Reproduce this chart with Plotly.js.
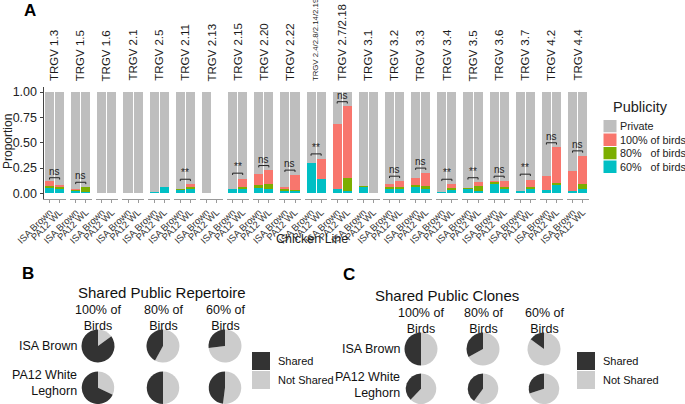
<!DOCTYPE html>
<html><head><meta charset="utf-8">
<script src="https://cdn.plot.ly/plotly-3.0.1.min.js"></script>
<style>html,body{margin:0;padding:0;background:#fff}</style>
</head><body><div id="chart" style="width:685px;height:404px"></div>
<script>
// ---------- DATA ----------
const facets = ["TRGV 1.3","TRGV 1.5","TRGV 1.6","TRGV 2.1","TRGV 2.5","TRGV 2.11","TRGV 2.13","TRGV 2.15","TRGV 2.20","TRGV 2.22","TRGV 2.4/2.8/2.14/2.19","TRGV 2.7/2.18","TRGV 3.1","TRGV 3.2","TRGV 3.3","TRGV 3.4","TRGV 3.5","TRGV 3.6","TRGV 3.7","TRGV 4.2","TRGV 4.4"];
const chickenLines = ["ISA Brown","PA12 WL"];
const isa60  = [0.05,0.025,0,0,0.015,0.033,0,0.04,0.05,0.027,0.30,0.043,0.06,0.04,0.06,0.015,0.043,0.089,0.023,0.033,0.02];
const isa80  = [0.02,0.005,0,0,0,0.01,0,0.004,0.03,0.016,0,0,0.015,0.02,0.02,0,0.009,0.019,0.003,0,0];
const isa100 = [0.05,0.015,0,0,0,0.003,0,0,0.11,0.017,0.005,0.642,0,0.03,0.07,0,0,0.012,0,0.142,0.2];
const pa60   = [0.04,0.01,0,0,0.06,0.04,null,0.043,0.046,0.025,0.14,0.025,0,0.04,0.045,0.033,0.026,0.04,0.043,0.08,0.043];
const pa80   = [0.02,0.055,0,0,0,0.02,null,0.023,0.044,0.01,0,0.13,0,0.022,0.025,0.022,0.046,0.026,0.022,0.02,0.047];
const pa100  = [0.02,0,0,0,0,0.035,null,0.08,0.14,0.145,0.2,0.71,0,0.063,0.13,0.04,0.043,0.054,0.07,0.36,0.28];
const sigLabels = ["ns","ns","","","","**","","**","ns","ns","**","ns","","ns","ns","**","**","ns","**","ns","ns"];
const sigY = [0.155,0.11,null,null,null,0.14,null,0.20,0.275,0.23,0.39,0.905,null,0.17,0.25,0.14,0.155,0.17,0.19,0.50,0.42];
const publicity = ["60%\u00a0\u00a0\u00a0of birds","80%\u00a0\u00a0\u00a0of birds","100% of birds","Private"];
const pubColors = ["#00BFC4","#7CAE00","#F8766D","#BEBEBE"];

const pieCols = ["100% of<br>Birds","80% of<br>Birds","60% of<br>Birds"];
const pieRows = ["ISA Brown","PA12 White<br>Leghorn"];
const repISA = [0.85,0.42,0.27];
const repPA  = [0.68,0.50,0.48];
const cloISA = [0.50,0.33,0.15];
const cloPA  = [0.38,0.40,0.30];
const shareLabels = ["Shared","Not Shared"];
const shareColors = ["#333333","#CCCCCC"];

// ---------- LAYOUT HELPERS ----------
const W=685,H=404;
const X=p=>p/W, Y=p=>1-p/H;
const panelX0=43.5, panelW=22.2, pitch=26.15;
const yTop=87, yBot=198.5;
const FONT='Liberation Sans, Arial, sans-serif';

const traces=[];
const layout={width:W,height:H,margin:{l:0,r:0,t:0,b:0},barmode:'stack',bargap:0.1,showlegend:false,
  paper_bgcolor:'#fff',plot_bgcolor:'rgba(0,0,0,0)',font:{family:FONT,color:'#222'},annotations:[],shapes:[]};

const privISA = isa60.map((v,i)=>1-v-isa80[i]-isa100[i]);
const privPA = pa60.map((v,i)=>v===null?null:1-v-pa80[i]-pa100[i]);
const series=[[isa60,pa60],[isa80,pa80],[isa100,pa100],[privISA,privPA]];

facets.forEach((f,i)=>{
  const ax = i===0?'':String(i+1);
  const x0 = panelX0+i*pitch, x1=x0+panelW;
  series.forEach((s,k)=>{
    traces.push({type:'bar',x:chickenLines,y:[s[0][i],s[1][i]],xaxis:'x'+ax,yaxis:'y',
      marker:{color:pubColors[k],line:{width:0}},name:publicity[k],hoverinfo:'skip'});
  });
  layout['xaxis'+ax]={domain:[X(x0),X(x1)],anchor:'y',type:'category',range:[-0.6,1.6],
    tickmode:'array',tickvals:chickenLines,ticktext:chickenLines,
    tickangle:-45,tickfont:{size:9.5,color:'#333',family:FONT},showline:true,linecolor:'#9a9a9a',linewidth:1.5,
    ticks:'outside',ticklen:3,tickcolor:'#9a9a9a',showgrid:false,zeroline:false,fixedrange:true,automargin:false};
  // strip label
  const small = f.length>15;
  layout.annotations.push({text:f,xref:'paper',yref:'paper',x:X((x0+x1)/2),y:Y(83),xanchor:'center',yanchor:'bottom',
    textangle:-90,showarrow:false,font:{size:small?7.8:11.5,color:'#1a1a1a',family:FONT}});
  // significance bracket
  if(sigLabels[i]){
    const yv=sigY[i];
    layout.shapes.push({type:'path',xref:'x'+ax,yref:'y',path:`M0,${yv-0.018} L0,${yv} L1,${yv} L1,${yv-0.018}`,line:{color:'#222',width:1}});
    layout.annotations.push({text:sigLabels[i],xref:'x'+ax,yref:'y',x:0.5,y:yv,xanchor:'center',yanchor:'bottom',yshift:-1,
      showarrow:false,font:{size:10,color:'#222',family:FONT}});
  }
});
layout.yaxis={domain:[Y(yBot),Y(yTop)],anchor:'x',range:[-0.05,1.05],tickvals:[0,0.25,0.5,0.75,1],
  ticktext:["0.00","0.25","0.50","0.75","1.00"],tickfont:{size:12.5,color:'#222',family:FONT},
  showline:true,linecolor:'#444',linewidth:1,ticks:'outside',ticklen:3,tickcolor:'#444',showgrid:false,zeroline:false,fixedrange:true};

// panel A texts
layout.annotations.push({text:'<b>A</b>',xref:'paper',yref:'paper',x:X(30),y:Y(10),xanchor:'center',yanchor:'middle',showarrow:false,font:{size:17,color:'#000'}});
layout.annotations.push({text:'Proportion',xref:'paper',yref:'paper',x:X(8),y:Y(142),textangle:-90,xanchor:'center',yanchor:'middle',showarrow:false,font:{size:12,color:'#222'}});
layout.annotations.push({text:'Chicken Line',xref:'paper',yref:'paper',x:X(312),y:Y(239),xanchor:'center',yanchor:'middle',showarrow:false,font:{size:12.5,color:'#222'}});
// manual legend for A
layout.annotations.push({text:'Publicity',xref:'paper',yref:'paper',x:X(611),y:Y(107),xanchor:'left',yanchor:'middle',showarrow:false,font:{size:14.5,color:'#222'}});
[3,2,1,0].forEach((k,j)=>{
  const top=119.5+j*13.5;
  layout.shapes.push({type:'rect',xref:'paper',yref:'paper',x0:X(603),x1:X(617),y0:Y(top),y1:Y(top+13.5),fillcolor:pubColors[k],line:{width:1,color:'#fff'}});
  layout.annotations.push({text:publicity[k],xref:'paper',yref:'paper',x:X(617.5),y:Y(top+6.75),xanchor:'left',yanchor:'middle',showarrow:false,font:{size:10.8,color:'#222'}});
});

// ---------- PIES ----------
const pieR=16.5;
function piePanel(label,lx,ly,title,tx,ty,colX,rowY,isa,pa,legX){
  layout.annotations.push({text:'<b>'+label+'</b>',xref:'paper',yref:'paper',x:X(lx),y:Y(ly),xanchor:'center',yanchor:'middle',showarrow:false,font:{size:17,color:'#000'}});
  layout.annotations.push({text:title,xref:'paper',yref:'paper',x:X(tx),y:Y(ty),xanchor:'center',yanchor:'middle',showarrow:false,font:{size:15,color:'#111'}});
  pieCols.forEach((c,j)=>{
    layout.annotations.push({text:c,xref:'paper',yref:'paper',x:X(colX[j]),y:Y(rowY[0]-28),xanchor:'center',yanchor:'middle',showarrow:false,font:{size:12.5,color:'#111'}});
  });
  pieRows.forEach((r,ri)=>{
    layout.annotations.push({text:r,xref:'paper',yref:'paper',x:X(colX[0]-pieR-3),y:Y(rowY[ri]+(ri?-5:0)),xanchor:'right',yanchor:'middle',align:'right',showarrow:false,font:{size:12.5,color:'#111'}});
    const vals = ri===0?isa:pa;
    vals.forEach((v,j)=>{
      // slices listed as [Not Shared, Shared], drawn clockwise from 12 o'clock
      traces.push({type:'pie',values:[1-v,v],labels:[shareLabels[1],shareLabels[0]],sort:false,direction:'clockwise',rotation:0,
        marker:{colors:[shareColors[1],shareColors[0]],line:{width:0}},textinfo:'none',hoverinfo:'skip',showlegend:false,
        domain:{x:[X(colX[j]-pieR),X(colX[j]+pieR)],y:[Y(rowY[ri]+pieR),Y(rowY[ri]-pieR)]}});
    });
  });
  shareLabels.forEach((s,k)=>{
    const top=352+k*19;
    layout.shapes.push({type:'rect',xref:'paper',yref:'paper',x0:X(legX),x1:X(legX+18),y0:Y(top),y1:Y(top+18),fillcolor:shareColors[k],line:{width:0}});
    layout.annotations.push({text:s,xref:'paper',yref:'paper',x:X(legX+24),y:Y(top+9),xanchor:'left',yanchor:'middle',showarrow:false,font:{size:11,color:'#111'}});
  });
}
piePanel('B',28,273,'Shared Public Repertoire',162,292,[98,163,225],[346,388],repISA,repPA,252);
piePanel('C',349,274,'Shared Public Clones',447,295,[421,483,544],[349,390],cloISA,cloPA,577);

Plotly.newPlot('chart',traces,layout,{displayModeBar:false,staticPlot:true});
</script></body></html>
